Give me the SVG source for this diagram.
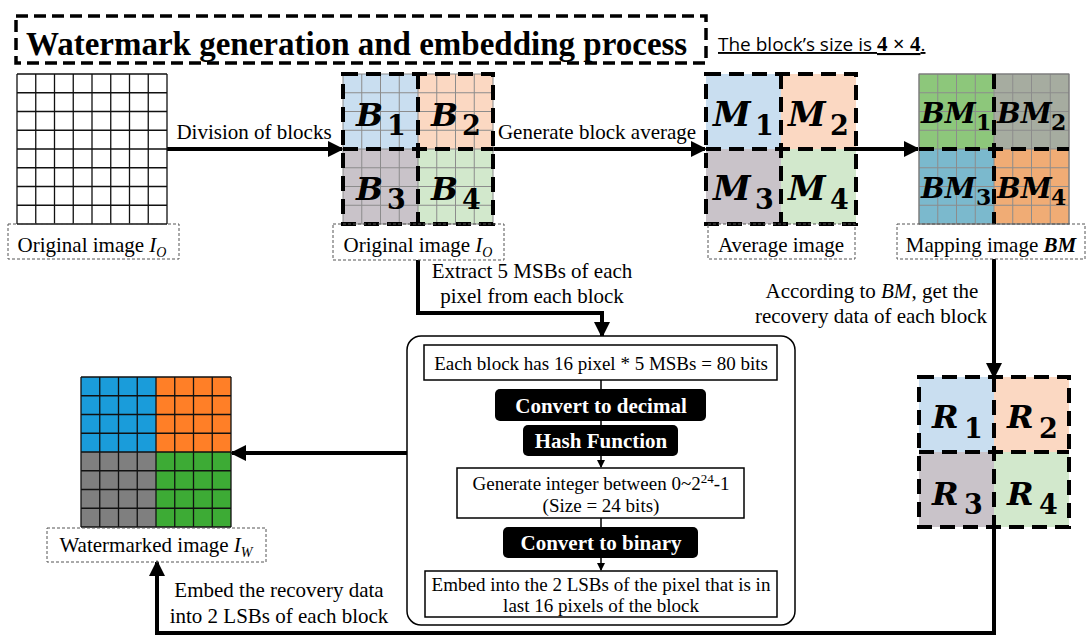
<svg xmlns="http://www.w3.org/2000/svg" xmlns:xlink="http://www.w3.org/1999/xlink" width="1086" height="637" viewBox="0 0 1086 637" font-family="'Liberation Serif', 'DejaVu Serif', serif">
<style>
text{font-family:'Liberation Serif','DejaVu Serif',serif;fill:#000}
.lbl{font-size:21px;text-anchor:middle}
.box{font-size:19px;text-anchor:middle}
.wb{font-size:21px;font-weight:bold;fill:#fff;text-anchor:middle}
.mb{font-family:'DejaVu Serif',serif;font-size:32px;font-weight:bold;font-style:italic}
.mm{font-family:'DejaVu Serif',serif;font-size:34px;font-weight:bold;font-style:italic}
.mbs{font-family:'DejaVu Serif',serif;font-size:28px;font-weight:bold;font-style:italic}
.sub{font-style:normal;font-weight:bold;font-size:27px}
.subs{font-style:normal;font-weight:bold;font-size:22px}
.sans{font-family:'Open Sans','Noto Sans',sans-serif}
.dotbox{fill:none;stroke:#555;stroke-width:1;stroke-dasharray:3 2}
.dash{fill:none;stroke:#000;stroke-width:4;stroke-dasharray:15 8}
.gblack{fill:none;stroke:#111;stroke-width:1.3}
.ggray{fill:none;stroke:#8c8c8c;stroke-width:1}
.conn{fill:none;stroke:#000;stroke-width:4}
.thin{fill:none;stroke:#000;stroke-width:1.5}
.frame{fill:#fff;stroke:#000;stroke-width:1.5}
.blk{fill:#000}
</style>
<defs>
<path id="grid8" d="M0,0v150m18.75,-150v150m18.75,-150v150m18.75,-150v150m18.75,-150v150m18.75,-150v150m18.75,-150v150m18.75,-150v150m18.75,-150v150M0,0h150m-150,18.75h150m-150,18.75h150m-150,18.75h150m-150,18.75h150m-150,18.75h150m-150,18.75h150m-150,18.75h150m-150,18.75h150"/>
<marker id="ah" markerUnits="userSpaceOnUse" markerWidth="18" markerHeight="18" refX="14" refY="8" orient="auto"><path d="M0,0L16,8L0,16z" fill="#000"/></marker>
<marker id="ahs" markerUnits="userSpaceOnUse" markerWidth="10" markerHeight="10" refX="7" refY="4" orient="auto"><path d="M0,0L8,4L0,8z" fill="#000"/></marker>
</defs>

<g id="title">
<rect x="16" y="16" width="690" height="47" fill="none" stroke="#000" stroke-width="3.5" stroke-dasharray="12 6"/>
<text x="26" y="55" font-size="33" font-weight="bold">Watermark generation and embedding process</text>
<text x="718" y="51" font-size="19" text-decoration="underline" class="sans">The block’s size is <tspan font-weight="bold" font-family="'Liberation Serif', serif" font-size="21">4 × 4</tspan>.</text>
</g>

<g id="connectors">
<path class="conn" d="M167,149H342" marker-end="url(#ah)"/>
<path class="conn" d="M493,149H705" marker-end="url(#ah)"/>
<path class="conn" d="M856,149H918" marker-end="url(#ah)"/>
<path class="conn" d="M418,260V313H602V336" marker-end="url(#ah)"/>
<path class="conn" d="M994,259V377" marker-end="url(#ah)"/>
<path class="conn" d="M994,527V633H157V562" marker-end="url(#ah)"/>
<path class="conn" d="M407,453H232" marker-end="url(#ah)"/>
<text class="lbl" x="254" y="139">Division of blocks</text>
<text class="lbl" x="597" y="139">Generate block average</text>
<text class="lbl" x="532" y="278">Extract 5 MSBs of each</text>
<text class="lbl" x="532" y="303">pixel from each block</text>
<text class="lbl" x="872" y="298">According to <tspan font-style="italic">BM</tspan>, get the</text>
<text class="lbl" x="871" y="323">recovery data of each block</text>
<text class="lbl" x="279" y="597">Embed the recovery data</text>
<text class="lbl" x="279" y="623">into 2 LSBs of each block</text>
</g>

<g id="original-image">
<rect x="17" y="74" width="150" height="150" fill="#fff"/>
<use xlink:href="#grid8" x="17" y="74" class="gblack"/>
<rect class="dotbox" x="8" y="224" width="171" height="35"/>
<text class="lbl" x="92" y="252">Original image <tspan font-style="italic">I</tspan><tspan font-style="italic" font-size="14" dy="5">O</tspan></text>
</g>

<g id="block-image">
<rect x="343" y="74" width="75" height="75" fill="#c9def0"/>
<rect x="418" y="74" width="75" height="75" fill="#fbd8c2"/>
<rect x="343" y="149" width="75" height="75" fill="#c9c3c9"/>
<rect x="418" y="149" width="75" height="75" fill="#d2e8cc"/>
<use xlink:href="#grid8" x="343" y="74" class="ggray"/>
<rect class="dash" x="343" y="74" width="150" height="150"/>
<path class="dash" d="M418,74V224M343,149H493"/>
<text class="mb" x="356" y="126">B<tspan class="sub" x="387" y="135">1</tspan></text>
<text class="mb" x="431" y="126">B<tspan class="sub" x="462" y="135">2</tspan></text>
<text class="mb" x="356" y="200">B<tspan class="sub" x="387" y="209">3</tspan></text>
<text class="mb" x="431" y="200">B<tspan class="sub" x="462" y="209">4</tspan></text>
<rect class="dotbox" x="333" y="224" width="171" height="36"/>
<text class="lbl" x="418" y="252">Original image <tspan font-style="italic">I</tspan><tspan font-style="italic" font-size="14" dy="5">O</tspan></text>
</g>

<g id="average-image">
<rect x="706" y="74" width="75" height="75" fill="#c9def0"/>
<rect x="781" y="74" width="75" height="75" fill="#fbd8c2"/>
<rect x="706" y="149" width="75" height="75" fill="#c9c3c9"/>
<rect x="781" y="149" width="75" height="75" fill="#d2e8cc"/>
<rect class="dash" x="706" y="74" width="150" height="150"/>
<path class="dash" d="M781,74V224M706,149H856"/>
<text class="mm" x="713" y="126">M<tspan class="sub" x="755" y="135">1</tspan></text>
<text class="mm" x="788" y="126">M<tspan class="sub" x="830" y="135">2</tspan></text>
<text class="mm" x="713" y="200">M<tspan class="sub" x="755" y="209">3</tspan></text>
<text class="mm" x="788" y="200">M<tspan class="sub" x="830" y="209">4</tspan></text>
<rect class="dotbox" x="708" y="224" width="147" height="35"/>
<text class="lbl" x="781" y="252">Average image</text>
</g>

<g id="mapping-image">
<rect x="919" y="74" width="75" height="75" fill="#8dc77b"/>
<rect x="994" y="74" width="75" height="75" fill="#a6aca0"/>
<rect x="919" y="149" width="75" height="75" fill="#7bb9cd"/>
<rect x="994" y="149" width="75" height="75" fill="#f0ac75"/>
<use xlink:href="#grid8" x="919" y="74" class="ggray"/>
<rect x="919" y="74" width="150" height="150" fill="none" stroke="#777" stroke-width="1"/>
<path class="dash" d="M994,74V224M919,149H1069"/>
<text class="mbs" x="921" y="123">BM<tspan class="subs" x="976" y="130">1</tspan></text>
<text class="mbs" x="997" y="123">BM<tspan class="subs" x="1051" y="130">2</tspan></text>
<text class="mbs" x="921" y="198">BM<tspan class="subs" x="976" y="205">3</tspan></text>
<text class="mbs" x="997" y="198">BM<tspan class="subs" x="1051" y="205">4</tspan></text>
<rect class="dotbox" x="897" y="224" width="188" height="35"/>
<text class="lbl" x="991" y="252">Mapping image <tspan font-weight="bold" font-style="italic">BM</tspan></text>
</g>

<g id="recovery-blocks">
<rect x="919" y="377" width="75" height="75" fill="#c9def0"/>
<rect x="994" y="377" width="75" height="75" fill="#fbd8c2"/>
<rect x="919" y="452" width="75" height="75" fill="#c9c3c9"/>
<rect x="994" y="452" width="75" height="75" fill="#d2e8cc"/>
<rect class="dash" x="919" y="377" width="150" height="150"/>
<path class="dash" d="M994,377V527M919,452H1069"/>
<text class="mb" x="932" y="428">R<tspan class="sub" x="964" y="438">1</tspan></text>
<text class="mb" x="1007" y="428">R<tspan class="sub" x="1039" y="438">2</tspan></text>
<text class="mb" x="932" y="505">R<tspan class="sub" x="964" y="514">3</tspan></text>
<text class="mb" x="1007" y="505">R<tspan class="sub" x="1039" y="514">4</tspan></text>
</g>

<g id="process">
<rect class="frame" x="407" y="336" width="388" height="289" rx="14"/>
<path class="thin" d="M601,380V389M601,421V425M601,518V527"/>
<path class="thin" d="M601,456V467" marker-end="url(#ahs)"/>
<path class="thin" d="M601,558V570" marker-end="url(#ahs)"/>
<rect class="frame" x="424" y="345" width="353" height="35"/>
<text class="box" x="601" y="370">Each block has 16 pixel * 5 MSBs = 80 bits</text>
<rect class="blk" x="495" y="389" width="211" height="32" rx="5"/>
<text class="wb" x="601" y="413">Convert to decimal</text>
<rect class="blk" x="523" y="425" width="155" height="31" rx="5"/>
<text class="wb" x="601" y="448">Hash Function</text>
<rect class="frame" x="457" y="468" width="287" height="50"/>
<text class="box" x="601" y="490">Generate integer between 0~2<tspan font-size="13" dy="-7">24</tspan><tspan dy="7">-1</tspan></text>
<text class="box" x="601" y="512">(Size = 24 bits)</text>
<rect class="blk" x="503" y="527" width="195" height="31" rx="5"/>
<text class="wb" x="601" y="550">Convert to binary</text>
<rect class="frame" x="425" y="571" width="352" height="46"/>
<text class="box" x="601" y="591">Embed into the 2 LSBs of the pixel that is in</text>
<text class="box" x="601" y="612">last 16 pixels of the block</text>
</g>

<g id="watermarked-image">
<rect x="81" y="377" width="75" height="75" fill="#1a9cda"/>
<rect x="156" y="377" width="75" height="75" fill="#ff7f27"/>
<rect x="81" y="452" width="75" height="75" fill="#7f7f7f"/>
<rect x="156" y="452" width="75" height="75" fill="#3dab35"/>
<use xlink:href="#grid8" x="81" y="377" class="gblack"/>
<rect class="dotbox" x="47" y="528" width="219" height="34"/>
<text class="lbl" x="156" y="552">Watermarked image <tspan font-style="italic">I</tspan><tspan font-style="italic" font-size="14" dy="5">W</tspan></text>
</g>
</svg>
